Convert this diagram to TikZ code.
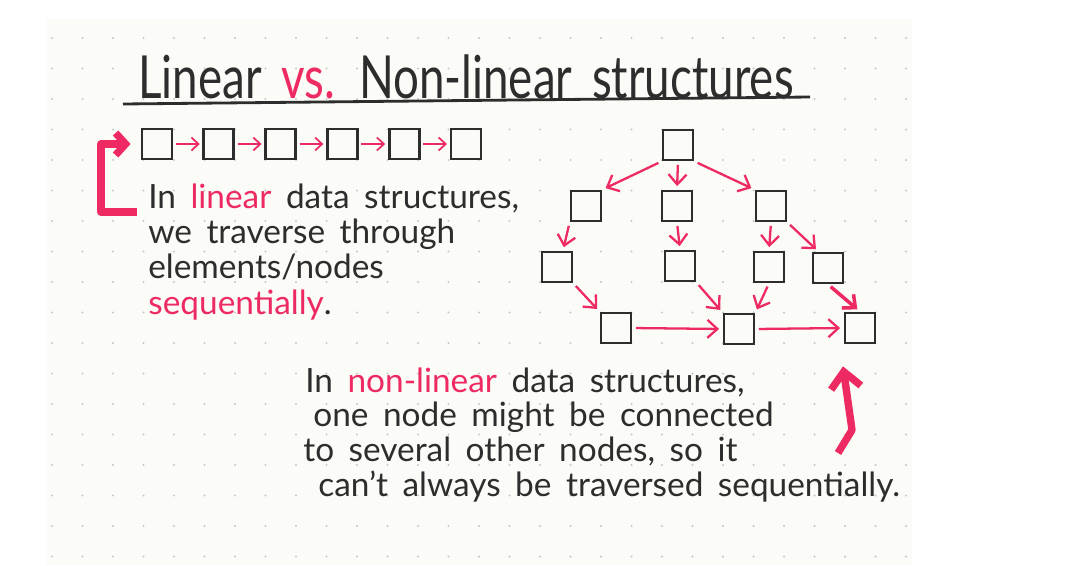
\documentclass[tikz,border=0pt]{standalone}
\usepackage{graphicx}
\usepackage{fontspec}
\setmainfont{Lato}[WordSpace=1.7]
\usetikzlibrary{arrows.meta,positioning,calc}
\definecolor{ink}{RGB}{45,45,45}
\definecolor{mk}{RGB}{238,42,98}
\definecolor{paper}{RGB}{251,251,247}
\definecolor{dotc}{RGB}{200,200,196}
\tikzset{
  sq/.style={draw=ink,line width=1.6pt,minimum size=0.6cm,inner sep=0pt},
  lnk/.style={-{Straight Barb[length=1.4mm,width=2.6mm]},mk,line width=1pt,
    shorten <=1.5pt,shorten >=1.5pt},
  edg/.style={-{Straight Barb[length=2mm,width=3.6mm]},mk,line width=1.3pt,
    shorten <=2pt,shorten >=2pt},
  big/.style={mk,line width=4.2pt,line join=round},
  txt/.style={anchor=base west,inner sep=0pt,text=ink,
    font=\fontsize{19pt}{23pt}\selectfont},
}

\begin{document}
\begin{tikzpicture}[x=0.02cm,y=-0.02cm]
  \fill[white] (0,0) rectangle (1084,565);
  \useasboundingbox (0,0) rectangle (1084,565);
  % dotted paper
  \fill[paper] (47,19) rectangle (912,565);
  \foreach \gx in {0,...,28}
    \foreach \gy in {0,...,17}
      \fill[dotc] ({52+30.5*\gx},{38+30.5*\gy}) circle[radius=0.7pt];

  % heading
  \node[anchor=base west,inner sep=0pt,text=ink,font=\fontsize{26pt}{30pt}\selectfont]
    (ttl) at (138,98) {\scalebox{1}[1.3]{Linear \textcolor{mk}{vs.} Non-linear structures}};
  \draw[ink,line width=1.6pt] (123,104) -- (810,97);

  % linear chain
  \node[sq] (s1) at (157,144) {};
  \foreach \i [count=\j from 1] in {2,...,6}
    \node[sq,right=5.8mm of s\j] (s\i) {};
  \foreach \i [count=\j from 2] in {1,...,5}
    \draw[lnk] (s\i) -- (s\j);
  \coordinate (brk) at (137,212);
  \draw[big,-{Straight Barb[length=2mm,width=4.4mm]}] (brk) -- ++(-36,0)
    |- ([xshift=-0.2cm]s1.west);

  \node[txt] (l1) at (148,208) {In \textcolor{mk}{linear} data structures,};
  \node[txt] (l2) at (148,243) {we traverse through};
  \node[txt] (l3) at (148,278) {elements/nodes};
  \node[txt] (l4) at (148,314) {\textcolor{mk}{sequentially}.};

  % non-linear graph
  \node[sq] (n0) at (678,145) {};
  \node[sq] (n1a) at (586,206) {};
  \node[sq] (n1b) at (677,206) {};
  \node[sq] (n1c) at (771,206) {};
  \node[sq] (n2a) at (557,267) {};
  \node[sq] (n2b) at (680,266) {};
  \node[sq] (n2c) at (769,267) {};
  \node[sq] (n2d) at (828,268) {};
  \node[sq] (n3a) at (616,328) {};
  \node[sq] (n3b) at (739,329) {};
  \node[sq] (n3c) at (860,328) {};

  \draw[edg] (n0.south west) -- (n1a.north east);
  \draw[edg] (n0.south) -- (n1b.north);
  \draw[edg] (n0.south east) -- (n1c.north west);
  \draw[edg] (n1a.south west) -- (n2a.70);
  \draw[edg] (n1b.south) -- (n2b.north);
  \draw[edg] (n1c.south) -- (n2c.north);
  \draw[edg] (n1c.south east) -- (n2d.120);
  \draw[edg] (n2a.south east) -- (n3a.north west);
  \draw[edg] (n2b.south east) -- (n3b.north west);
  \draw[edg] (n2c.south) -- (n3b.north east);
  \draw[edg,line width=2pt] (n2d.south) -- (n3c.north);
  \draw[edg] (n3a.east) -- (n3b.west);
  \draw[edg] (n3b.east) -- (n3c.west);

  \coordinate (up0) at (838,453);
  \coordinate (up1) at (852,430);
  \draw[big,-{Straight Barb[length=3.2mm,width=6mm]}] (up0) -- (up1)
    -- ($(n3c.south)+(-17,22)$);

  \node[txt] (r1) at (305,392) {In \textcolor{mk}{non-linear} data structures,};
  \node[txt] (r2) at (313,426) {one node might be connected};
  \node[txt] (r3) at (303,461) {to several other nodes, so it};
  \node[txt] (r4) at (318,496) {can't always be traversed sequentially.};
\end{tikzpicture}
\end{document}
